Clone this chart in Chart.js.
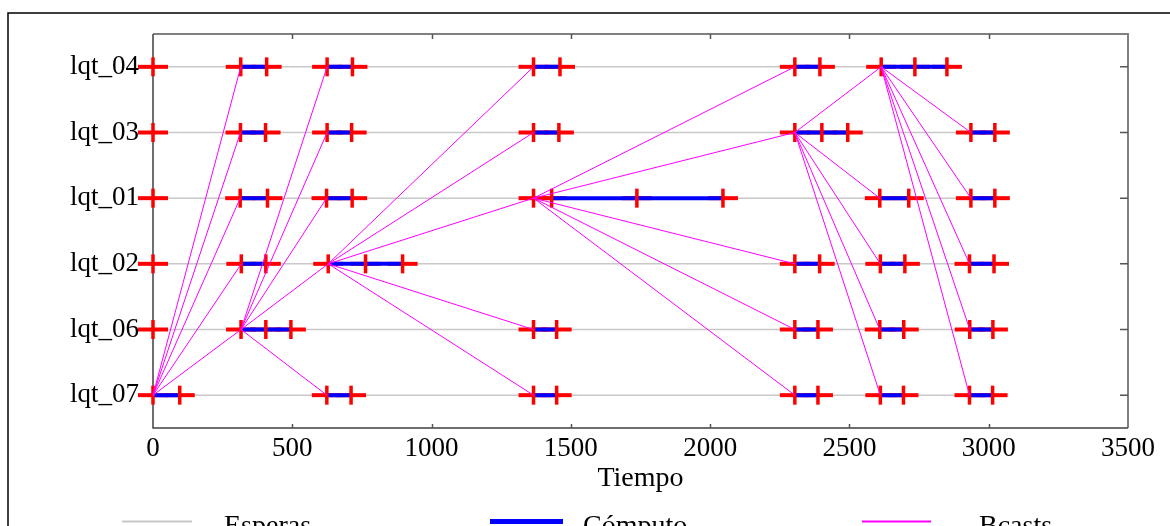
<!DOCTYPE html>
<html><head><meta charset="utf-8">
<script src="https://cdn.jsdelivr.net/npm/chart.js@4/dist/chart.umd.min.js"></script>
<style>html,body{margin:0;padding:0;background:#fff;overflow:hidden}</style>
</head><body>
<canvas id="c" width="1170" height="526"></canvas>
<script>
// ---------------- DATA ----------------
const rows = ['lqt_04','lqt_03','lqt_01','lqt_02','lqt_06','lqt_07'];
const xTicks = [0, 500, 1000, 1500, 2000, 2500, 3000, 3500];

// event marks (red crosses) per process
const marks_lqt_04 = [0, 315, 408, 625, 716, 1366, 1461, 2304, 2394, 2614, 2735, 2850];
const marks_lqt_03 = [0, 314, 404, 625, 713, 1366, 1457, 2304, 2401, 2494, 2936, 3022];
const marks_lqt_01 = [0, 313, 411, 623, 715, 1366, 1431, 1737, 2046, 2609, 2713, 2936, 3022];
const marks_lqt_02 = [0, 317, 405, 629, 763, 896, 2304, 2393, 2611, 2699, 2931, 3019];
const marks_lqt_06 = [0, 316, 405, 495, 1366, 1449, 2304, 2387, 2609, 2695, 2932, 3015];
const marks_lqt_07 = [0, 96, 624, 711, 1366, 1449, 2304, 2387, 2611, 2694, 2931, 3014];

// computation intervals (Cómputo) per process
const compute_lqt_04 = [[315, 408], [625, 716], [1366, 1461], [2304, 2394], [2614, 2850]];
const compute_lqt_03 = [[314, 404], [625, 713], [1366, 1457], [2304, 2494], [2936, 3022]];
const compute_lqt_01 = [[313, 411], [623, 715], [1431, 2046], [2609, 2713], [2936, 3022]];
const compute_lqt_02 = [[317, 405], [629, 896], [2304, 2393], [2611, 2699], [2931, 3019]];
const compute_lqt_06 = [[316, 495], [1366, 1449], [2304, 2387], [2609, 2695], [2932, 3015]];
const compute_lqt_07 = [[0, 96], [624, 711], [1366, 1449], [2304, 2387], [2611, 2694], [2931, 3014]];

// broadcasts (Bcasts): source process and send time
const bcastFrom = ['lqt_07', 'lqt_06', 'lqt_02', 'lqt_01', 'lqt_03', 'lqt_04'];
const bcastAt   = [0, 316, 629, 1366, 2304, 2614];
// arrival time at each process, per broadcast (null = sender)
const bcastTo_lqt_04 = [315, 625, 1366, 2304, 2614, null];
const bcastTo_lqt_03 = [314, 625, 1366, 2304, null, 2936];
const bcastTo_lqt_01 = [313, 623, 1366, null, 2609, 2936];
const bcastTo_lqt_02 = [317, 629, null, 2304, 2611, 2931];
const bcastTo_lqt_06 = [316, null, 1366, 2304, 2609, 2932];
const bcastTo_lqt_07 = [null, 624, 1366, 2304, 2611, 2931];

// ---------------- BUILD ----------------
const marks = {lqt_04: marks_lqt_04, lqt_03: marks_lqt_03, lqt_01: marks_lqt_01, lqt_02: marks_lqt_02, lqt_06: marks_lqt_06, lqt_07: marks_lqt_07};
const compute = {lqt_04: compute_lqt_04, lqt_03: compute_lqt_03, lqt_01: compute_lqt_01, lqt_02: compute_lqt_02, lqt_06: compute_lqt_06, lqt_07: compute_lqt_07};
const bcastTo = {lqt_04: bcastTo_lqt_04, lqt_03: bcastTo_lqt_03, lqt_01: bcastTo_lqt_01, lqt_02: bcastTo_lqt_02, lqt_06: bcastTo_lqt_06, lqt_07: bcastTo_lqt_07};
const rowIdx = r => rows.indexOf(r);
const GAP = {x: NaN, y: NaN};

const markPts = [];
const waitPts = [];
const compPts = [];
const bcastPts = [];
rows.forEach(r => {
  const y = rowIdx(r);
  marks[r].forEach(t => markPts.push({x: t, y}));
  waitPts.push({x: 0, y}, {x: Math.max(...marks[r]), y}, GAP);
  compute[r].forEach(([a, b]) => compPts.push({x: a, y}, {x: b, y}, GAP));
});
bcastFrom.forEach((src, k) => {
  rows.forEach(r => {
    const t = bcastTo[r][k];
    if (t === null || r === src) return;
    bcastPts.push({x: bcastAt[k], y: rowIdx(src)}, {x: t, y: rowIdx(r)}, GAP);
  });
});

const SERIF = "'Liberation Serif', 'DejaVu Serif', serif";

const framePlugin = {
  id: 'frame',
  beforeDraw(chart) {
    const ctx = chart.ctx;
    ctx.save();
    ctx.fillStyle = '#fff';
    ctx.fillRect(0, 0, chart.width, chart.height);
    ctx.strokeStyle = '#000';
    ctx.lineWidth = 1.5;
    ctx.beginPath();
    ctx.moveTo(8, chart.height + 2);
    ctx.lineTo(8, 13);
    ctx.lineTo(chart.width + 2, 13);
    ctx.stroke();
    ctx.restore();
  },
  beforeDatasetsDraw(chart) {
    const {ctx, chartArea: a, scales: {x, y}} = chart;
    ctx.save();
    ctx.strokeStyle = '#808080';
    ctx.lineWidth = 2;
    ctx.beginPath();
    ctx.moveTo(a.left, a.top); ctx.lineTo(a.right, a.top); ctx.lineTo(a.right, a.bottom);
    ctx.stroke();
    ctx.strokeStyle = '#404040';
    ctx.lineWidth = 1.5;
    ctx.beginPath();
    ctx.moveTo(a.left, a.top); ctx.lineTo(a.left, a.bottom); ctx.lineTo(a.right, a.bottom);
    ctx.stroke();
    ctx.strokeStyle = '#555';
    ctx.lineWidth = 1.5;
    ctx.beginPath();
    x.ticks.forEach(t => {
      const px = Math.round(x.getPixelForValue(t.value)) + 0.5;
      if (t.value === 0 || t.value === 3500) return;
      ctx.moveTo(px, a.bottom); ctx.lineTo(px, a.bottom - 4);
      ctx.moveTo(px, a.top); ctx.lineTo(px, a.top + 5);
    });
    y.ticks.forEach(t => {
      const py = y.getPixelForValue(t.value);
      ctx.moveTo(a.right, py); ctx.lineTo(a.right - 8, py);
    });
    ctx.stroke();
    ctx.restore();
  },
  afterDraw(chart) {
    const ctx = chart.ctx;
    const ds = chart.data.datasets;
    const byLabel = l => ds.find(d => d.label === l);
    const items = [
      {d: byLabel('Esperas'), x0: 122, x1: 192, tx: 224, w: 2},
      {d: byLabel('Cómputo'), x0: 490, x1: 563, tx: 583, w: 5},
      {d: byLabel('Bcasts'),  x0: 862, x1: 931, tx: 979, w: 2}
    ];
    const ly = 521.5;
    ctx.save();
    items.forEach(it => {
      ctx.strokeStyle = it.d.borderColor;
      ctx.lineWidth = it.w;
      ctx.beginPath();
      ctx.moveTo(it.x0, ly); ctx.lineTo(it.x1, ly);
      ctx.stroke();
      ctx.fillStyle = '#000';
      ctx.font = '28px ' + SERIF;
      ctx.textBaseline = 'alphabetic';
      ctx.textAlign = 'left';
      ctx.fillText(it.d.label, it.tx, 534);
    });
    ctx.restore();
  }
};

new Chart(document.getElementById('c'), {
  type: 'scatter',
  data: {
    datasets: [
      {label: 'Bcasts', data: bcastPts, showLine: true, borderColor: '#ff00ff', borderWidth: 1, pointRadius: 0, clip: false},
      {label: 'crossV', data: markPts, showLine: false, pointStyle: 'line', pointRotation: 90, pointRadius: 9.5,
       pointBorderWidth: 3.5, pointBorderColor: '#ff0000', pointBackgroundColor: '#ff0000', clip: false},
      {label: 'Cómputo', data: compPts, showLine: true, borderColor: '#0000ff', borderWidth: 4, borderCapStyle: 'butt', pointRadius: 0, clip: false},
      {label: 'crossH', data: markPts, showLine: false, pointStyle: 'line', pointRadius: 15,
       pointBorderWidth: 4, pointBorderColor: '#ff0000', pointBackgroundColor: '#ff0000', clip: false},
      {label: 'Esperas', data: waitPts, showLine: true, borderColor: '#c8c8c8', borderWidth: 1.5, pointRadius: 0, clip: false}
    ]
  },
  options: {
    responsive: false,
    animation: false,
    devicePixelRatio: 1,
    events: [],
    layout: {padding: {top: 34, right: 42, left: 0, bottom: 0}},
    plugins: {legend: {display: false}, tooltip: {enabled: false}},
    scales: {
      x: {
        type: 'linear', min: 0, max: 3500,
        afterBuildTicks: s => { s.ticks = xTicks.map(v => ({value: v})); },
        afterFit: s => { s.height = 98; },
        grid: {display: false, drawTicks: false},
        border: {display: false},
        ticks: {color: '#000', font: {family: SERIF, size: 27}, padding: 5, maxRotation: 0, autoSkip: false,
                callback: v => String(v)},
        title: {display: true, text: 'Tiempo', color: '#000', font: {family: SERIF, size: 28}, padding: {top: 0, bottom: 31}}
      },
      y: {
        type: 'linear', min: -0.5, max: 5.5, reverse: true,
        afterBuildTicks: s => { s.ticks = rows.map((r, i) => ({value: i})); },
        afterFit: s => { s.width = 153; },
        grid: {display: false, drawTicks: false},
        border: {display: false},
        ticks: {color: '#000', font: {family: SERIF, size: 27}, padding: 14, autoSkip: false,
                callback: v => rows[v]}
      }
    }
  },
  plugins: [framePlugin]
});
</script>
</body></html>
